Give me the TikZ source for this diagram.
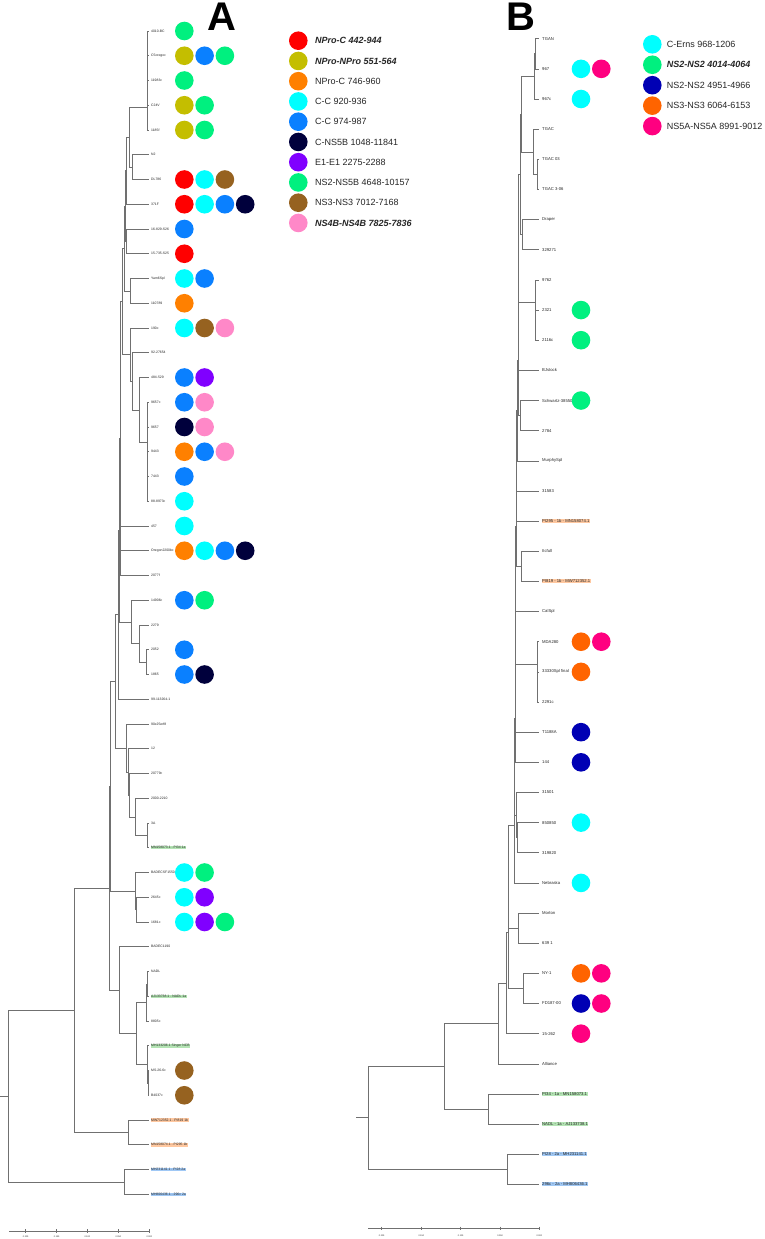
\documentclass[tikz,border=0pt]{standalone}
\usepackage{fontspec}
\setmainfont{Liberation Sans}
\definecolor{cRed}{HTML}{FF0000}
\definecolor{cOlive}{HTML}{C4BE00}
\definecolor{cOrange}{HTML}{FF8000}
\definecolor{cCyan}{HTML}{00FFFF}
\definecolor{cBlue}{HTML}{0A80FF}
\definecolor{cNavy}{HTML}{00003C}
\definecolor{cPurple}{HTML}{8000FF}
\definecolor{cGreen}{HTML}{00F07F}
\definecolor{cBrown}{HTML}{966220}
\definecolor{cPink}{HTML}{FF88C8}
\definecolor{bBlue}{HTML}{0000B4}
\definecolor{bOrange}{HTML}{FF6400}
\definecolor{bMag}{HTML}{FF0080}
\definecolor{hlPeach}{HTML}{FFC8A0}
\definecolor{hlGreen}{HTML}{B4E4B4}
\definecolor{hlBlue}{HTML}{A0C8F5}
\definecolor{treegray}{HTML}{707070}
\definecolor{txtgray}{HTML}{262626}
\begin{document}
\begin{tikzpicture}[x=1pt,y=-1pt,
  br/.style={draw=treegray, line width=0.6pt},
  lfA/.style={anchor=west, font=\fontsize{3.4}{4}\selectfont, inner sep=0.5pt, text=txtgray},
  lfB/.style={anchor=west, font=\fontsize{4.2}{5}\selectfont, inner sep=0.5pt, text=txtgray},
  pl/.style={},
  hg/.style={fill=hlGreen},
  ho/.style={fill=hlPeach},
  hb/.style={fill=hlBlue},
  dot/.style={circle, minimum size=18.6pt, inner sep=0pt, draw=none},
  legtxt/.style={anchor=west, font=\fontsize{9}{10}\selectfont, inner sep=0pt, text=txtgray},
  ticklbl/.style={font=\fontsize{2.2}{2.5}\selectfont, inner sep=0pt, text=txtgray},
  panel/.style={font=\fontsize{40}{40}\selectfont\bfseries, inner sep=0pt, anchor=base}]
\useasboundingbox (0,0) rectangle (765,1239);
\fill[white] (0,0) rectangle (765,1239);

% panel letters
\node[panel] (letA) at (222,31) {A};
\node[panel] (letB) at (521,31) {B};

% ================= Panel A =================
\foreach \t/\s [count=\i] in {4010-BC/pl, C5oregoc/pl, 11983c/pl, C24V/pl, 1185f/pl, N2/pl, DL786/pl, 371F/pl, 16-829-S26/pl, 15-735-S25/pl, Yam6Spl/pl, 110789/pl, 190c/pl, 92-27654/pl, 484-529/pl, 9657c/pl, 9657/pl, 9443/pl, 7443/pl, 88-8973c/pl, 457/pl, Oregon2200bc/pl, 2077f/pl, 14906c/pl, 2279/pl, 2052/pl, 1865/pl, 99-113264-1/pl, 90x25erf8/pl, 12/pl, 20779c/pl, 2000-2210/pl, 3A/pl, MN158073.1 - PI34 1a/hg, BADECSF1550/pl, 2645c/pl, 1681c/pl, BADEC1190/pl, NADL/pl, AJ133738.1 - NADL 1a/hg, 8805c/pl, MH133206.1 Singer NCB/hg, MS-26-6c/pl, B4037c/pl, MW712352.1 - PI819 1b/ho, MN158074.1 - PI295 1b/ho, MH231141.1 - PI28 2a/hb, MH806436.1 - 296c 2a/hb} {
  \pgfmathsetmacro\yy{31+(\i-1)*24.75}
  \coordinate (a\i) at (148.5,\yy);
  \node[lfA,\s] (la\i) at (150.5,\yy) {\t};
}
\coordinate (n15) at (147,106.8);
\coordinate (nND) at (132.7,167.1);
\coordinate (nX) at (129.3,136.95);
\coordinate (nB1a) at (126.3,170.6);
\coordinate (nB1b) at (126.7,241.4);
\coordinate (nB1) at (125,206);
\coordinate (nYam) at (130,290.9);
\coordinate (nB2) at (124,248.45);
\coordinate (nC16) at (147,442.7);
\coordinate (n484) at (139.3,410.1);
\coordinate (n92) at (132.3,381.4);
\coordinate (n190) at (130,354.7);
\coordinate (nB3) at (122.7,301.6);
\coordinate (nB4) at (120.7,438.55);
\coordinate (n2052) at (146.7,662.1);
\coordinate (n2279) at (139.3,643.6);
\coordinate (n14906) at (131,621.9);
\coordinate (nB4b) at (119.3,530.2);
\coordinate (nB5) at (118.3,614.7);
\coordinate (n34) at (147.5,835.4);
\coordinate (n32) at (135,816.8);
\coordinate (n31) at (129.3,795.15);
\coordinate (n30) at (128.3,771.95);
\coordinate (nC29) at (126.7,748);
\coordinate (nB6) at (115,681.35);
\coordinate (n2645) at (136.7,909.6);
\coordinate (nBAD) at (135,891.1);
\coordinate (nB7a) at (110,786.2);
\coordinate (nNADL) at (147.3,983.9);
\coordinate (n8805) at (146,1002.4);
\coordinate (nMS) at (147.8,1082.9);
\coordinate (nMH) at (147,1064.3);
\coordinate (n136) at (136,1033.35);
\coordinate (nC38) at (119.3,990.05);
\coordinate (nB7) at (109.3,888.1);
\coordinate (n1b) at (128.3,1132.4);
\coordinate (nIn) at (74,1010.25);
\coordinate (n2a) at (124,1181.9);
\coordinate (nRoot) at (8.3,1096.1);
\coordinate (rootA) at (0,1096.1);
\foreach \p/\c in {n15/a1,n15/a2,n15/a3,n15/a4,n15/a5, nND/a6,nND/a7, nX/n15,nX/nND, nB1a/nX,nB1a/a8, nB1b/a9,nB1b/a10, nB1/nB1a,nB1/nB1b, nYam/a11,nYam/a12, nB2/nB1,nB2/nYam, nC16/a16,nC16/a17,nC16/a18,nC16/a19,nC16/a20, n484/a15,n484/nC16, n92/a14,n92/n484, n190/a13,n190/n92, nB3/nB2,nB3/n190, nB4/nB3,nB4/a21,nB4/a22,nB4/a23, n2052/a26,n2052/a27, n2279/a25,n2279/n2052, n14906/a24,n14906/n2279, nB4b/nB4,nB4b/n14906, nB5/nB4b,nB5/a28, n34/a33,n34/a34, n32/a32,n32/n34, n31/a31,n31/n32, n30/a30,n30/n31, nC29/a29,nC29/n30, nB6/nB5,nB6/nC29, n2645/a36,n2645/a37, nBAD/a35,nBAD/n2645, nB7a/nB6,nB7a/nBAD, nNADL/a39,nNADL/a40, n8805/nNADL,n8805/a41, nMS/a43,nMS/a44, nMH/a42,nMH/nMS, n136/n8805,n136/nMH, nC38/a38,nC38/n136, nB7/nB7a,nB7/nC38, n1b/a45,n1b/a46, nIn/nB7,nIn/n1b, n2a/a47,n2a/a48, nRoot/nIn,nRoot/n2a}
  \draw[br] (\p) |- (\c);
\draw[br] (rootA) -- (nRoot);

\foreach \i/\k/\col in {1/0/cGreen, 2/0/cOlive, 2/1/cBlue, 2/2/cGreen, 3/0/cGreen, 4/0/cOlive, 4/1/cGreen, 5/0/cOlive, 5/1/cGreen, 7/0/cRed, 7/1/cCyan, 7/2/cBrown, 8/0/cRed, 8/1/cCyan, 8/2/cBlue, 8/3/cNavy, 9/0/cBlue, 10/0/cRed, 11/0/cCyan, 11/1/cBlue, 12/0/cOrange, 13/0/cCyan, 13/1/cBrown, 13/2/cPink, 15/0/cBlue, 15/1/cPurple, 16/0/cBlue, 16/1/cPink, 17/0/cNavy, 17/1/cPink, 18/0/cOrange, 18/1/cBlue, 18/2/cPink, 19/0/cBlue, 20/0/cCyan, 21/0/cCyan, 22/0/cOrange, 22/1/cCyan, 22/2/cBlue, 22/3/cNavy, 24/0/cBlue, 24/1/cGreen, 26/0/cBlue, 27/0/cBlue, 27/1/cNavy, 35/0/cCyan, 35/1/cGreen, 36/0/cCyan, 36/1/cPurple, 37/0/cCyan, 37/1/cPurple, 37/2/cGreen, 43/0/cBrown, 44/0/cBrown}
  \node[dot, fill=\col] (ca\i-\k) at ({184.3+\k*20.3},{31+(\i-1)*24.75}) {};

% scale bar A
\coordinate (sA0) at (9,1231);
\coordinate (sA1) at (149.3,1231);
\draw[br] (sA0) -- (sA1);
\foreach \xx/\lab in {25.7/0.200, 56.7/0.150, 87.3/0.100, 118.3/0.050, 149.3/0.000} {
  \draw[br] (\xx,1229.2) -- (\xx,1232.8);
  \node[ticklbl] at (\xx,1236.5) {\lab};
}

% legend A
\foreach \col/\txt/\bi [count=\i] in {cRed/NPro-C 442-944/1, cOlive/NPro-NPro 551-564/1, cOrange/NPro-C 746-960/0, cCyan/C-C 920-936/0, cBlue/C-C 974-987/0, cNavy/C-NS5B 1048-11841/0, cPurple/E1-E1 2275-2288/0, cGreen/NS2-NS5B 4648-10157/0, cBrown/NS3-NS3 7012-7168/0, cPink/NS4B-NS4B 7825-7836/1} {
  \pgfmathsetmacro\yy{40.7+(\i-1)*20.25}
  \node[dot, fill=\col] (lgA\i) at (298.3,\yy) {};
  \ifnum\bi=1
    \node[legtxt] (ltA\i) at (315,\yy) {\bfseries\itshape \txt};
  \else
    \node[legtxt] (ltA\i) at (315,\yy) {\txt};
  \fi
}

% ================= Panel B =================
\foreach \t/\s [count=\i] in {TGAN/pl, 967/pl, 967c/pl, TGAC/pl, TGAC 03/pl, TGAC 3-06/pl, Draper/pl, 329271/pl, 9762/pl, 2321/pl, 2116c/pl, BJstock/pl, Schwartz-38550/pl, 2784/pl, MurphySpl/pl, 31583/pl, PI295 - 1b - MN158074.1/ho, IIcfull/pl, PI819 - 1b - MW712352.1/ho, CalSpl/pl, MDA280/pl, 33330Spl final/pl, 2291c/pl, T1188A/pl, 144/pl, 31501/pl, 850850/pl, 319820/pl, Nebraska/pl, Morton/pl, 639 1/pl, NY-1/pl, FD187-00/pl, 15-262/pl, Alliance/pl, PI34 - 1a - MN158073.1/hg, NADL - 1a - AJ133738.1/hg, PI28 - 2a - MH231141.1/hb, 296c - 2a - MH806436.1/hb} {
  \pgfmathsetmacro\yy{38.7+(\i-1)*30.15}
  \coordinate (b\i) at (539,\yy);
  \node[lfB,\s] (lb\i) at (541.5,\yy) {\t};
}
\coordinate (m12) at (535.7,53.8);
\coordinate (mT3) at (534.5,76.4);
\coordinate (m56) at (537.5,174.4);
\coordinate (mTG) at (533.3,151.8);
\coordinate (mT) at (521.7,114.1);
\coordinate (mDr) at (522.7,234.7);
\coordinate (mU1) at (520,174.4);
\coordinate (m1011) at (535.7,325.1);
\coordinate (mV) at (535,302.5);
\coordinate (mU2) at (518.7,238.45);
\coordinate (mL1) at (518.3,304.4);
\coordinate (mSch) at (520,415.6);
\coordinate (mL2) at (518,360);
\coordinate (mL3) at (517,410.4);
\coordinate (mL4) at (516.7,450.7);
\coordinate (mL5) at (516.5,485.9);
\coordinate (mIIc) at (521,566.3);
\coordinate (mL6) at (516.2,526.1);
\coordinate (mL7) at (515.5,568.8);
\coordinate (mMsub) at (537.5,686.9);
\coordinate (mMDA) at (537,664.3);
\coordinate (mL8) at (515.3,616.55);
\coordinate (mL9) at (515,674.35);
\coordinate (mL10) at (514.8,718.3);
\coordinate (m27) at (517.3,837.7);
\coordinate (m315) at (516.7,815.1);
\coordinate (mL11) at (514.5,766.7);
\coordinate (mW) at (514,824.8);
\coordinate (mMor) at (518.3,928.1);
\coordinate (mX) at (508.3,876.45);
\coordinate (mNY) at (523.3,988.4);
\coordinate (mX2) at (508.3,932.4);
\coordinate (mX3) at (506.7,983);
\coordinate (mY) at (498.3,1023.4);
\coordinate (m1a) at (488.3,1109);
\coordinate (mZ) at (444.3,1066.2);
\coordinate (m2a) at (507.3,1169.3);
\coordinate (mR) at (368.3,1117.75);
\coordinate (rootB) at (356,1117.75);
\foreach \p/\c in {m12/b1,m12/b2, mT3/m12,mT3/b3, m56/b5,m56/b6, mTG/b4,mTG/m56, mT/mT3,mT/mTG, mDr/b7,mDr/b8, mU1/mT,mU1/mDr, m1011/b10,m1011/b11, mV/b9,mV/m1011, mU2/mU1,mU2/mV, mL1/mU2,mL1/b12, mSch/b13,mSch/b14, mL2/mL1,mL2/mSch, mL3/mL2,mL3/b15, mL4/mL3,mL4/b16, mL5/mL4,mL5/b17, mIIc/b18,mIIc/b19, mL6/mL5,mL6/mIIc, mL7/mL6,mL7/b20, mMsub/b22,mMsub/b23, mMDA/b21,mMDA/mMsub, mL8/mL7,mL8/mMDA, mL9/mL8,mL9/b24, mL10/mL9,mL10/b25, m27/b27,m27/b28, m315/b26,m315/m27, mL11/mL10,mL11/m315, mW/mL11,mW/b29, mMor/b30,mMor/b31, mX/mW,mX/mMor, mNY/b32,mNY/b33, mX2/mX,mX2/mNY, mX3/mX2,mX3/b34, mY/mX3,mY/b35, m1a/b36,m1a/b37, mZ/mY,mZ/m1a, m2a/b38,m2a/b39, mR/mZ,mR/m2a}
  \draw[br] (\p) |- (\c);
\draw[br] (rootB) -- (mR);

\foreach \i/\k/\col in {2/0/cCyan, 2/1/bMag, 3/0/cCyan, 10/0/cGreen, 11/0/cGreen, 13/0/cGreen, 21/0/bOrange, 21/1/bMag, 22/0/bOrange, 24/0/bBlue, 25/0/bBlue, 27/0/cCyan, 29/0/cCyan, 32/0/bOrange, 32/1/bMag, 33/0/bBlue, 33/1/bMag, 34/0/bMag}
  \node[dot, fill=\col] (cb\i-\k) at ({581+\k*20.3},{38.7+(\i-1)*30.15}) {};

% scale bar B
\coordinate (sB0) at (368.3,1228.3);
\coordinate (sB1) at (539.3,1228.3);
\draw[br] (sB0) -- (sB1);
\foreach \xx/\lab in {381.7/0.200, 421.3/0.150, 460.7/0.100, 500/0.050, 539.3/0.000} {
  \draw[br] (\xx,1226.5) -- (\xx,1230.1);
  \node[ticklbl] at (\xx,1235.5) {\lab};
}

% legend B
\foreach \col/\txt/\bi [count=\i] in {cCyan/C-Erns 968-1206/0, cGreen/NS2-NS2 4014-4064/1, bBlue/NS2-NS2 4951-4966/0, bOrange/NS3-NS3 6064-6153/0, bMag/NS5A-NS5A 8991-9012/0} {
  \pgfmathsetmacro\yy{44.3+(\i-1)*20.45}
  \node[dot, fill=\col] (lgB\i) at (652.3,\yy) {};
  \ifnum\bi=1
    \node[legtxt] (ltB\i) at (666.7,\yy) {\bfseries\itshape \txt};
  \else
    \node[legtxt] (ltB\i) at (666.7,\yy) {\txt};
  \fi
}
\end{tikzpicture}
\end{document}
